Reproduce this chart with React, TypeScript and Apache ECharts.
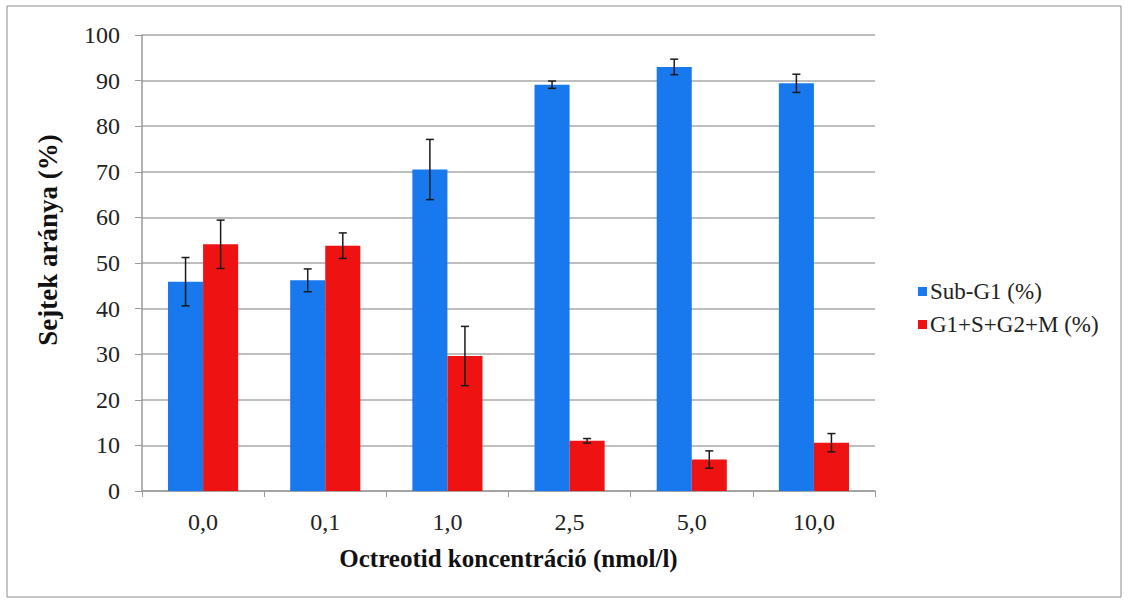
import React, { useEffect, useRef } from "react";
import * as echarts from "echarts";

const categories = ["0,0", "0,1", "1,0", "2,5", "5,0", "10,0"];
const subG1 = [45.9, 46.2, 70.5, 89.1, 93.0, 89.4];
const subG1Err = [5.3, 2.5, 6.6, 0.8, 1.7, 2.0];
const cycle = [54.1, 53.8, 29.6, 11.0, 6.9, 10.6];
const cycleErr = [5.3, 2.8, 6.5, 0.5, 1.9, 2.0];
const seriesNames = ["Sub-G1 (%)", "G1+S+G2+M (%)"];
const yTicks = { min: 0, max: 100, interval: 10 };

const BLUE = "#1878EE";
const RED = "#EE1212";
const FONT = "Liberation Serif";

function errorSeries(values: number[], errs: number[], side: number, name: string) {
  return {
    type: "custom",
    name: name + " err",
    silent: true,
    z: 10,
    data: values.map((v, i) => [i, v, errs[i]]),
    renderItem: (params: any, api: any) => {
      const idx = api.value(0);
      const v = api.value(1);
      const e = api.value(2);
      const band = api.size([1, 0])[0];
      const hi = api.coord([idx, v + e]);
      const lo = api.coord([idx, v - e]);
      const x = hi[0] + side * band * 0.1435;
      const cap = 4;
      const style = { stroke: "#1a1a1a", lineWidth: 1.5 };
      return {
        type: "group",
        children: [
          { type: "line", shape: { x1: x, y1: hi[1], x2: x, y2: lo[1] }, style },
          { type: "line", shape: { x1: x - cap, y1: hi[1], x2: x + cap, y2: hi[1] }, style },
          { type: "line", shape: { x1: x - cap, y1: lo[1], x2: x + cap, y2: lo[1] }, style },
        ],
      };
    },
  };
}

export default function App() {
  const ref = useRef<HTMLDivElement>(null);
  useEffect(() => {
    if (!ref.current) return;
    const chart = echarts.init(ref.current, null, { renderer: "svg" });
    chart.setOption({
      animation: false,
      backgroundColor: "#ffffff",
      textStyle: { fontFamily: FONT },
      grid: { left: 142, right: 254, top: 35, bottom: 113, containLabel: false },
      legend: {
        orient: "vertical",
        left: 913,
        top: 275,
        itemWidth: 9,
        itemHeight: 9,
        itemGap: 10,
        icon: "rect",
        data: seriesNames,
        textStyle: { fontFamily: FONT, fontSize: 23, color: "#222", padding: [0, 0, 0, -2] },
      },
      graphic: [
        {
          type: "rect",
          shape: { x: 7, y: 6, width: 1114, height: 591 },
          style: { fill: "none", stroke: "#8c8c8c", lineWidth: 1 },
          silent: true,
        },
        {
          type: "text",
          x: 48,
          y: 240,
          rotation: Math.PI / 2,
          style: {
            text: "Sejtek aránya (%)",
            fontFamily: FONT,
            fontSize: 27,
            fontWeight: "bold",
            fill: "#111",
            align: "center",
            verticalAlign: "middle",
          },
        },
      ],
      xAxis: {
        type: "category",
        data: categories,
        name: "Octreotid koncentráció (nmol/l)",
        nameLocation: "middle",
        nameGap: 55,
        nameTextStyle: { fontFamily: FONT, fontSize: 25, fontWeight: "bold", color: "#111" },
        axisLine: { lineStyle: { color: "#9a9a9a", width: 1.5 } },
        axisTick: { show: true, length: 6, lineStyle: { color: "#9a9a9a" } },
        axisLabel: { fontFamily: FONT, fontSize: 24, color: "#222", margin: 19 },
      },
      yAxis: {
        type: "value",
        min: yTicks.min,
        max: yTicks.max,
        interval: yTicks.interval,
        axisLine: { show: true, lineStyle: { color: "#9a9a9a", width: 1.5 } },
        axisTick: { show: true, length: 7, lineStyle: { color: "#9a9a9a" } },
        axisLabel: { fontFamily: FONT, fontSize: 24, color: "#222", margin: 22 },
        splitLine: { show: true, lineStyle: { color: "#a8a8a8", width: 1.5 } },
      },
      series: [
        {
          type: "bar",
          name: seriesNames[0],
          data: subG1,
          barGap: "0%",
          barCategoryGap: "42.6%",
          itemStyle: { color: BLUE },
        },
        {
          type: "bar",
          name: seriesNames[1],
          data: cycle,
          barGap: "0%",
          barCategoryGap: "42.6%",
          itemStyle: { color: RED },
        },
        errorSeries(subG1, subG1Err, -1, seriesNames[0]),
        errorSeries(cycle, cycleErr, 1, seriesNames[1]),
      ],
    });
    return () => chart.dispose();
  }, []);
  return (
    <div
      ref={ref}
      style={{ position: "fixed", left: 0, top: 0, width: 1129, height: 604 }}
    />
  );
}
